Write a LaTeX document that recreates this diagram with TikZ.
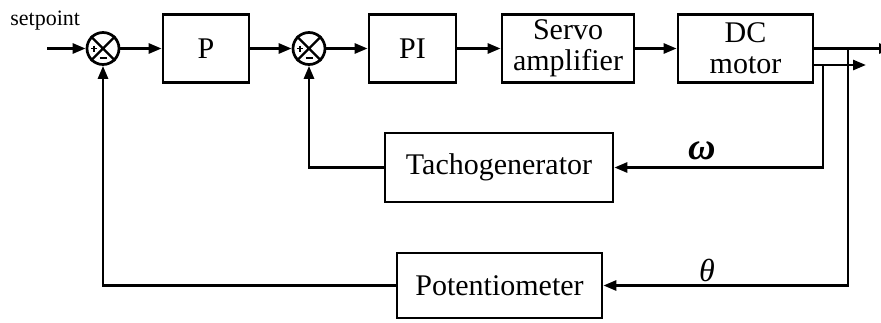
\documentclass[tikz,border=0pt]{standalone}
\usepackage{fontspec}
\setmainfont{Liberation Serif}
\usetikzlibrary{arrows.meta}
\begin{document}
\begin{tikzpicture}[x=1pt,y=-1pt,
 line width=2.7pt,
 arr/.style={-{Triangle[length=13pt,width=10pt]}},
 blk/.style={draw, line width=2.7pt, inner sep=0pt, font=\fontsize{30}{31}\selectfont, align=center},
 sumj/.style={draw, circle, minimum size=32pt, inner sep=0pt, line width=2.7pt},
 sgn/.style={line width=1.4pt},
 lbl/.style={inner sep=0pt}]
\clip (0,0) rectangle (881,322);
% blocks
\node[blk, minimum width=86pt, minimum height=68pt] (P) at (206,48.5) {P};
\node[blk, minimum width=87pt, minimum height=68pt] (PI) at (412.5,48.5) {PI};
\node[blk, minimum width=132pt, minimum height=68pt] (SA) at (568,48.5) {Servo\\amplifier};
\node[blk, minimum width=135pt, minimum height=68pt] (DC) at (745.5,48.5) {DC\\motor};
\node[blk, minimum width=228pt, minimum height=69pt] (T) at (499,167.5) {Tachogenerator};
\node[blk, minimum width=205pt, minimum height=65pt] (Pot) at (499.5,285.5) {Potentiometer};
% summing junctions
\node[sumj] (s1) at (103,48.5) {};
\node[sumj] (s2) at (309,48.5) {};
\foreach \s in {s1,s2}{
  \draw[line width=2.2pt] (\s.north east) -- (\s.south west) (\s.north west) -- (\s.south east);
  \draw[sgn] ([shift={(-12,0)}]\s.center) -- ([shift={(-6,0)}]\s.center)
             ([shift={(-9,-3)}]\s.center) -- ([shift={(-9,3)}]\s.center);
  \draw[sgn] ([shift={(-3.5,9.5)}]\s.center) -- ([shift={(3.5,9.5)}]\s.center);
}
% labels
\node[lbl, anchor=base west, font=\fontsize{22}{24}\selectfont] (sp) at (9,25) {setpoint};
\node[lbl, font=\fontsize{38}{40}\selectfont\bfseries\itshape] (w) at (702,151) {ω};
\node[lbl, font=\fontsize{32}{34}\selectfont\itshape] (th) at (707,270) {θ};
% coordinates
\coordinate (in) at (47,48.5);
\coordinate (o1) at (892,48.5);
\coordinate (o2) at (866,65);
\coordinate (t1) at (823,65);
\coordinate (p1) at (848,48.5);
% forward path
\draw[arr] (in) -- (s1);
\draw[arr] (s1) -- (P);
\draw[arr] (P) -- (s2);
\draw[arr] (s2) -- (PI);
\draw[arr] (PI) -- (SA);
\draw[arr] (SA) -- (DC);
\draw[arr] (DC.east) -- (o1);
\draw[arr] (DC.east |- o2) -- (o2);
% feedback
\draw[arr] (t1) |- (T);
\draw[arr] (T) -| (s2);
\draw[arr] (p1) |- (Pot);
\draw[arr] (Pot) -| (s1);
\end{tikzpicture}
\end{document}
